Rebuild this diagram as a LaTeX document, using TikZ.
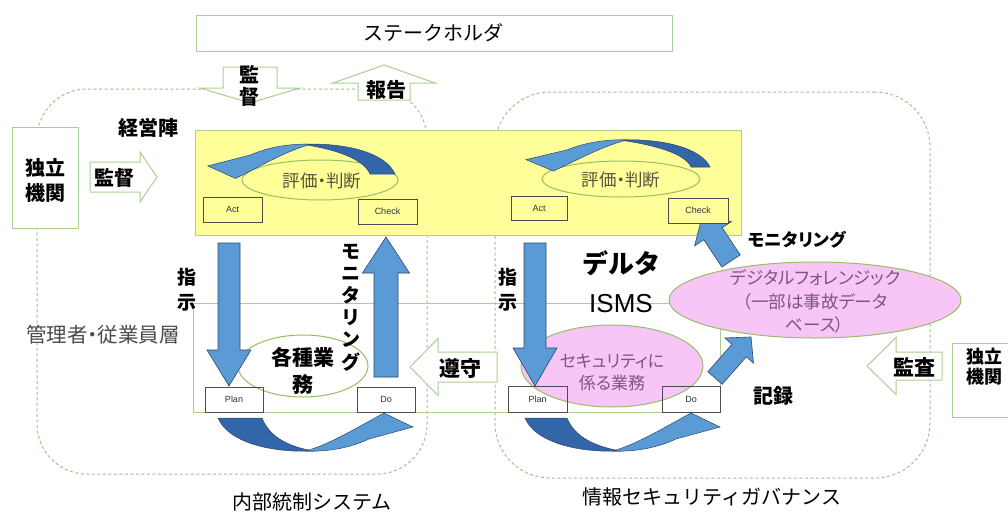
\documentclass[tikz,border=0pt]{standalone}
\usepackage{fontspec}
\setmainfont{Liberation Sans}
\newfontfamily\jp{Noto Sans CJK JP}
\newfontfamily\jpp[RawFeature=+palt]{Noto Sans CJK JP}
\usetikzlibrary{shapes.geometric}
\definecolor{lgreen}{RGB}{170,208,145}
\definecolor{dgreen}{RGB}{160,195,140}
\definecolor{ellgreen}{RGB}{150,190,100}
\definecolor{yel}{RGB}{255,255,153}
\definecolor{pinkf}{RGB}{247,198,247}
\definecolor{blu}{RGB}{91,155,213}
\definecolor{bludk}{RGB}{50,102,168}
\definecolor{bline}{RGB}{45,70,110}
\definecolor{ptext}{RGB}{125,85,125}
\definecolor{gtext}{RGB}{75,75,75}
\definecolor{otext}{RGB}{85,85,60}
\newcommand{\fsz}[2]{\fontsize{#1}{#2}\selectfont}
% block arrow: style, tail point, angle, length, shaft half width, head half width, head length
\newcommand{\blockarr}[7]{%
  \begin{scope}[shift={#2},rotate=#3]
    \path[#1] (0,-#5) -- ({#4-#7},-#5) -- ({#4-#7},-#6) -- (#4,0) -- ({#4-#7},#6) -- ({#4-#7},#5) -- (0,#5) -- cycle;
  \end{scope}}
% curved arrow (tail at origin, dipping down, head to the right); #1 = tail width
\newcommand{\curvarr}[1]{%
  \path[fill=bludk, draw=bline, line width=0.5pt] (0,0) .. controls (10,24) and (52,35) .. (96,33) .. controls (72,29) and ({#1+8},20) .. (#1,0) -- cycle;
  \path[fill=blu, draw=bline, line width=0.5pt] (88,33) .. controls (112,34) and (134,29) .. (151,21) -- (195,9) -- (166,-5) -- (146,6) .. controls (128,16) and (108,27) .. (88,33) -- cycle;}
\begin{document}
\begin{tikzpicture}[x=1pt,y=-1pt,
  dashbox/.style={draw=dgreen, line width=1pt, dash pattern=on 3pt off 2.5pt, inner sep=0pt},
  gbox/.style={draw=lgreen, line width=1pt, fill=white, inner sep=0pt},
  outarrow/.style={draw=lgreen, line width=1pt, fill=white},
  bluarrow/.style={draw=bline, line width=0.6pt, fill=blu},
  pdcabox/.style={draw=black!70, line width=0.8pt, inner sep=0pt, font=\fsz{9}{9}, text=black!80},
  ell/.style={ellipse, draw=ellgreen, line width=1pt, inner sep=0pt},
  lab/.style={inner sep=0pt, align=center, text=black},
  blab/.style={lab, font=\jp\bfseries\fsz{20}{22}},
]
\useasboundingbox (0,0) rectangle (1008,514);
\fill[white] (0,0) rectangle (1008,514);

% dashed regions
\node[dashbox, rounded corners=50pt, minimum width=390pt, minimum height=385pt] (icbox) at (232,281.5) {};
\node[dashbox, rounded corners=55pt, minimum width=435pt, minimum height=386pt] (isbox) at (712.5,285) {};

% manager/employee layer
\node[draw=lgreen, line width=1pt, inner sep=0pt, minimum width=527pt, minimum height=109pt] (layer) at (456.5,357.5) {};

% stakeholder
\node[gbox, minimum width=476pt, minimum height=36pt] (stake) at (434,33) {};
\blockarr{outarrow}{(250,67)}{-90}{36}{27}{50}{15}
\blockarr{outarrow}{(384,100)}{90}{35}{26}{51}{18}

% independent bodies
\node[gbox, minimum width=66pt, minimum height=101pt] (ind1) at (45,177.5) {};
\node[gbox, minimum width=88pt, minimum height=74pt] (ind2) at (996,380) {};
\blockarr{outarrow}{(90,177)}{0}{67}{15}{25}{17}
\blockarr{outarrow}{(497,367)}{180}{87}{15}{28.5}{28}
\blockarr{outarrow}{(942,366)}{180}{75}{14}{28.5}{29}

% management layer
\node[draw=lgreen, line width=1pt, fill=yel, inner sep=0pt, minimum width=546pt, minimum height=105pt] (mgmt) at (468,182.5) {};

% ellipses
\node[ell, minimum width=156pt, minimum height=40pt] (ev1) at (320,180) {};
\node[ell, minimum width=158pt, minimum height=36pt] (ev2) at (621,179) {};
\node[ell, fill=white, minimum width=130pt, minimum height=62pt] (work) at (303,366) {};
\node[ell, fill=pinkf, minimum width=182pt, minimum height=82pt] (secw) at (612,366) {};
\node[ell, fill=pinkf, minimum width=292pt, minimum height=76pt] (dfor) at (815,300) {};

% curved arrows (Act <- Check, Plan -> Do)
\begin{scope}[shift={(395,174)}, xscale=-0.96, yscale=-0.9]\curvarr{26}\end{scope}
\begin{scope}[shift={(710,167)}, xscale=-0.944, yscale=-0.82]\curvarr{20}\end{scope}
\begin{scope}[shift={(218,418)}]\curvarr{44}\end{scope}
\begin{scope}[shift={(525,418)}]\curvarr{42}\end{scope}

% blue block arrows
\blockarr{bluarrow}{(229,243)}{-90}{143}{11}{22}{36}
\blockarr{bluarrow}{(386,377)}{90}{140}{12}{23.5}{36}
\blockarr{bluarrow}{(535,243)}{-90}{143}{11}{22}{38}
\blockarr{bluarrow}{(731,261)}{123.4}{52.7}{11}{22}{20}
\blockarr{bluarrow}{(715,378)}{48.7}{54.6}{9.5}{19}{18}

% PDCA boxes
\node[pdcabox, fill=yel, minimum width=59pt, minimum height=25pt] (act1) at (232.5,209.5) {Act};
\node[pdcabox, fill=yel, minimum width=59pt, minimum height=25pt] (chk1) at (387.5,211.5) {Check};
\node[pdcabox, fill=yel, minimum width=56pt, minimum height=24pt] (act2) at (539,208) {Act};
\node[pdcabox, fill=yel, minimum width=60pt, minimum height=25pt] (chk2) at (698,210.5) {Check};
\node[pdcabox, minimum width=58pt, minimum height=25pt] (plan1) at (234,399.5) {Plan};
\node[pdcabox, minimum width=58pt, minimum height=25pt] (do1) at (386,399.5) {Do};
\node[pdcabox, minimum width=59pt, minimum height=26pt] (plan2) at (537.5,399) {Plan};
\node[pdcabox, minimum width=58pt, minimum height=26pt] (do2) at (691,399) {Do};

% texts
\node[lab, font=\jp\fsz{20}{22}] (stakeT) at (433,33) {ステークホルダ};
\node[blab] (kantoku1) at (249,86) {監\\督};
\node[blab] (hokoku) at (386,90) {報告};
\node[blab] (keiei) at (148,128) {経営陣};
\node[blab, font=\jp\bfseries\fsz{20}{25}] (ind1T) at (45,180.5) {独立\\機関};
\node[blab] (kantoku2) at (114,178) {監督};
\node[lab, text=gtext, font=\jpp\fsz{20.5}{22}] (kanri) at (103,335) {管理者・従業員層};
\node[blab, font=\jp\bfseries\fsz{19}{25}] (shiji1) at (187,289.5) {指\\示};
\node[blab, font=\jp\bfseries\fsz{19}{25}] (shiji2) at (508,289.5) {指\\示};
\node[blab, font=\jp\bfseries\fsz{19}{22.2}] (mon1) at (351,307.5) {モ\\ニ\\タ\\リ\\ン\\グ};
\node[blab, font=\jp\bfseries\fsz{21}{27}] (workT) at (303,370.5) {各種業\\務};
\node[blab, font=\jp\bfseries\fsz{21}{22}] (junshu) at (460,368) {遵守};
\node[lab, text=otext, font=\jpp\fsz{17.5}{20}] (ev1T) at (322,181) {評価・判断};
\node[lab, text=otext, font=\jpp\fsz{17.5}{20}] (ev2T) at (621,180) {評価・判断};
\node[lab, font=\fsz{26}{39}] (delta) at (621,281.5) {{\jp\bfseries デルタ}\\ISMS};
\node[lab, text=ptext, font=\jpp\fsz{17}{22}] (secT) at (612,372) {セキュリティに\\係る業務};
\node[lab, text=ptext, font=\jpp\fsz{17.5}{23.5}] (dforT) at (815,301.5) {デジタルフォレンジック\\（一部は事故データ\\ベース）};
\node[lab, font=\jpp\bfseries\fsz{17.5}{20}] (mon2) at (797,240) {モニタリング};
\node[blab] (kiroku) at (773,396) {記録};
\node[blab, font=\jp\bfseries\fsz{21}{22}] (kansa) at (914,367) {監査};
\node[blab, font=\jp\bfseries\fsz{18}{20}] (ind2T) at (984,367) {独立\\機関};
\node[lab, font=\jp\fsz{20}{22}] (naibu) at (312,502) {内部統制システム};
\node[lab, font=\jp\fsz{20}{22}] (joho) at (712,497) {情報セキュリティガバナンス};
\end{tikzpicture}
\end{document}
